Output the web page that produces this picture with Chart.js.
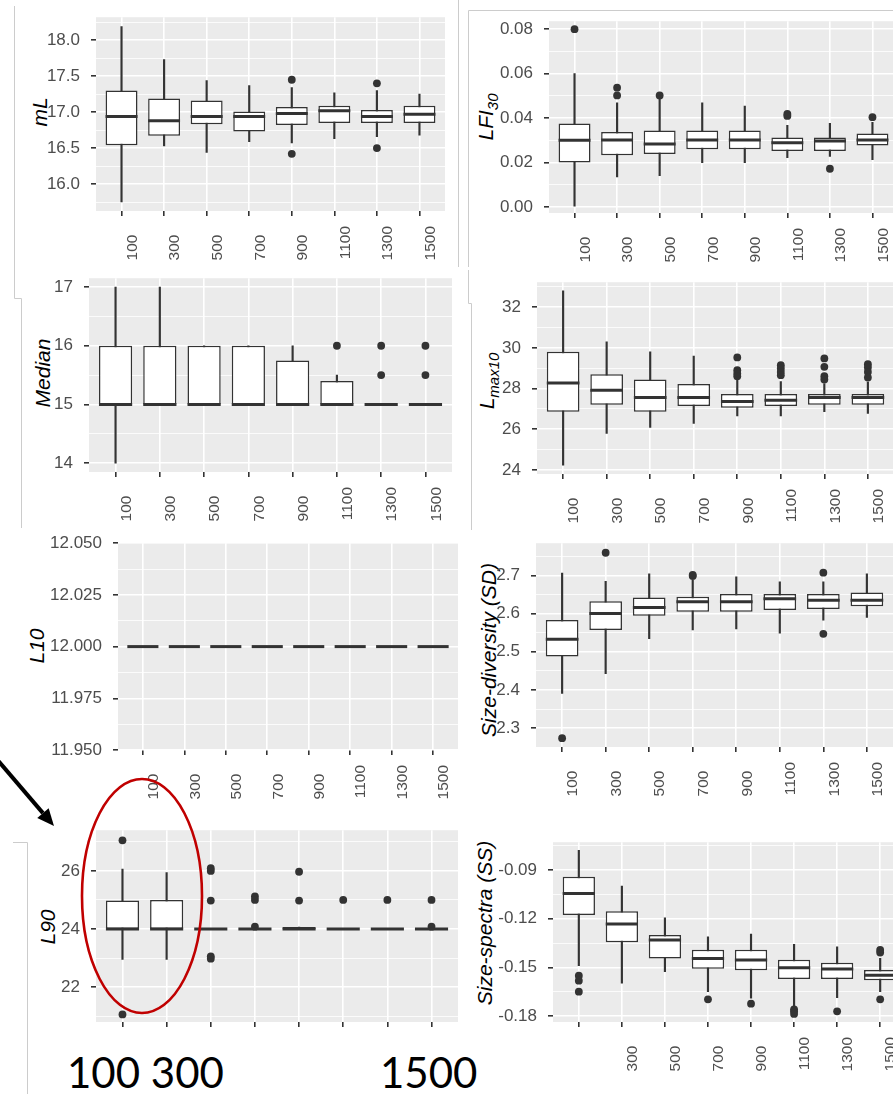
<!DOCTYPE html>
<html>
<head>
<meta charset="utf-8">
<script src="https://cdn.jsdelivr.net/npm/chart.js@4.4.0/dist/chart.umd.min.js"></script>
<style>
html, body { margin: 0; padding: 0; background: #fff; }
#page { position: relative; width: 893px; height: 1094px; overflow: hidden; background: #fff;
        font-family: "Liberation Sans", Arial, sans-serif; }
.ytitle { position: absolute; transform: translate(-50%, -50%) rotate(-90deg); white-space: nowrap;
          font-size: 21px; font-style: italic; color: #000; line-height: 1; }
.ytitle sub { font-size: 15px; vertical-align: -5px; }
.big { position: absolute; font-family: Lato, "Liberation Sans", sans-serif; font-size: 42px;
       line-height: 42px; color: #000; white-space: pre; }
#overlay { position: absolute; left: 0; top: 0; z-index: 5; pointer-events: none; }
</style>
</head>
<body>
<div id="page">
  <div class="ytitle" style="left:39px;top:112px">mL</div>
  <div class="ytitle" style="left:487px;top:117px">LFI<sub>30</sub></div>
  <div class="ytitle" style="left:42px;top:373px">Median</div>
  <div class="ytitle" style="left:488px;top:381px">L<sub>max10</sub></div>
  <div class="ytitle" style="left:36px;top:646px">L10</div>
  <div class="ytitle" style="left:488px;top:650px">Size-diversity (SD)</div>
  <div class="ytitle" style="left:47px;top:927px">L90</div>
  <div class="ytitle" style="left:484px;top:923px">Size-spectra (SS)</div>
  <div class="big" style="left:67px;top:1051px">100 300</div>
  <div class="big" style="left:380px;top:1051px">1500</div>
  <canvas id="overlay" width="893" height="1094"></canvas>
</div>
<script>
const sizes = ['100', '300', '500', '700', '900', '1100', '1300', '1500'];

// one row per sample size: [lower whisker, Q1, median, Q3, upper whisker]
const mlBox = [
    [15.75, 16.54, 16.94, 17.30, 18.19],
    [16.53, 16.67, 16.88, 17.19, 17.73],
    [16.44, 16.83, 16.94, 17.16, 17.44],
    [16.59, 16.73, 16.94, 17.01, 17.37],
    [16.57, 16.82, 16.98, 17.07, 17.34],
    [16.63, 16.85, 17.02, 17.09, 17.27],
    [16.66, 16.85, 16.94, 17.03, 17.30],
    [16.68, 16.85, 16.97, 17.09, 17.25]
];
const mlOut = [[4, 17.45], [4, 16.42], [6, 17.40], [6, 16.50]];
const mlTicks = [16.0, 16.5, 17.0, 17.5, 18.0];

const lfiBox = [
    [0.000, 0.020, 0.030, 0.0376, 0.060],
    [0.0135, 0.0233, 0.0302, 0.0338, 0.0469],
    [0.0141, 0.0239, 0.0283, 0.0344, 0.0484],
    [0.0200, 0.0260, 0.0302, 0.0344, 0.0469],
    [0.0200, 0.0260, 0.0302, 0.0344, 0.0454],
    [0.0222, 0.0252, 0.0289, 0.0313, 0.0368],
    [0.0228, 0.0252, 0.0297, 0.0313, 0.0376],
    [0.0213, 0.0277, 0.0302, 0.0331, 0.0381]
];
const lfiOut = [[0, 0.080], [1, 0.0537], [1, 0.0502], [2, 0.0502], [5, 0.0419], [5, 0.0410],
                [6, 0.0172], [7, 0.0404]];
const lfiTicks = [0.00, 0.02, 0.04, 0.06, 0.08];

const medianBox = [
    [14, 15, 15, 16, 17],
    [15, 15, 15, 16, 17],
    [15, 15, 15, 16, 16],
    [15, 15, 15, 16, 16],
    [15, 15, 15, 15.75, 16],
    [15, 15, 15, 15.4, 15.5],
    [15, 15, 15, 15, 15],
    [15, 15, 15, 15, 15]
];
const medianOut = [[5, 16], [6, 16], [6, 15.5], [7, 16], [7, 15.5]];
const medianTicks = [14, 15, 16, 17];

const lmaxBox = [
    [24.24, 26.86, 28.27, 29.81, 32.80],
    [25.80, 27.20, 27.92, 28.71, 30.30],
    [26.09, 26.86, 27.56, 28.45, 29.81],
    [26.29, 27.14, 27.56, 28.22, 29.60],
    [26.66, 27.06, 27.36, 27.73, 28.40],
    [26.66, 27.14, 27.43, 27.73, 28.35],
    [26.86, 27.20, 27.56, 27.73, 28.25],
    [26.78, 27.20, 27.56, 27.73, 28.33]
];
const lmaxOut = [[4, 29.53], [4, 28.90], [4, 28.74], [4, 28.61],
                 [5, 29.15], [5, 28.99], [5, 28.82], [5, 28.66],
                 [6, 29.48], [6, 29.07], [6, 28.61], [6, 28.45],
                 [7, 29.20], [7, 29.04], [7, 28.82], [7, 28.55]];
const lmaxTicks = [24, 26, 28, 30, 32];

const l10Box = [
    [12, 12, 12, 12, 12], [12, 12, 12, 12, 12], [12, 12, 12, 12, 12], [12, 12, 12, 12, 12],
    [12, 12, 12, 12, 12], [12, 12, 12, 12, 12], [12, 12, 12, 12, 12], [12, 12, 12, 12, 12]
];
const l10Out = [];
const l10Ticks = [11.950, 11.975, 12.000, 12.025, 12.050];

const sdBox = [
    [2.391, 2.488, 2.533, 2.583, 2.706],
    [2.443, 2.557, 2.600, 2.632, 2.684],
    [2.534, 2.594, 2.616, 2.642, 2.704],
    [2.557, 2.605, 2.631, 2.644, 2.687],
    [2.560, 2.605, 2.631, 2.651, 2.696],
    [2.549, 2.609, 2.639, 2.651, 2.683],
    [2.583, 2.612, 2.635, 2.651, 2.683],
    [2.590, 2.619, 2.635, 2.655, 2.704]
];
const sdOut = [[0, 2.274], [1, 2.759], [3, 2.698], [3, 2.701], [6, 2.707], [6, 2.547]];
const sdTicks = [2.3, 2.4, 2.5, 2.6, 2.7];

const l90Box = [
    [22.95, 24, 24, 24.98, 26.06],
    [22.95, 24, 24, 25.00, 25.94],
    [24, 24, 24, 24, 24],
    [24, 24, 24, 24, 24],
    [24, 24, 24, 24.07, 24.07],
    [24, 24, 24, 24, 24],
    [24, 24, 24, 24, 24],
    [24, 24, 24, 24, 24]
];
const l90Out = [[0, 27.05], [0, 21.06], [2, 26.09], [2, 26.00], [2, 24.98], [2, 23.06], [2, 22.98],
                [3, 25.12], [3, 25.00], [3, 24.08], [4, 25.97], [4, 24.98], [5, 25.00], [6, 25.00],
                [7, 25.00], [7, 24.08]];
const l90Ticks = [22, 24, 26];

const ssBox = [
    [-0.1490, -0.1177, -0.1044, -0.0941, -0.0778],
    [-0.1598, -0.1345, -0.1233, -0.1154, -0.0999],
    [-0.1526, -0.1446, -0.1331, -0.1300, -0.1194],
    [-0.1650, -0.1508, -0.1446, -0.1391, -0.1311],
    [-0.1690, -0.1518, -0.1454, -0.1391, -0.1294],
    [-0.1742, -0.1572, -0.1502, -0.1453, -0.1358],
    [-0.1687, -0.1572, -0.1510, -0.1471, -0.1374],
    [-0.1650, -0.1580, -0.1549, -0.1516, -0.1444]
];
const ssOut = [[0, -0.1551], [0, -0.1582], [0, -0.1650], [3, -0.1697], [4, -0.1724],
               [5, -0.1759], [5, -0.1771], [5, -0.1787], [6, -0.1771],
               [7, -0.1393], [7, -0.1409], [7, -0.1697]];
const ssTicks = [-0.18, -0.15, -0.12, -0.09];

// plot area in page pixels: [left, top, right, bottom]
const panels = [
    { box: mlBox, out: mlOut, ticks: mlTicks, min: 15.625, max: 18.32, digits: 1, area: [96, 17, 445, 211] },
    { box: lfiBox, out: lfiOut, ticks: lfiTicks, min: -0.0027, max: 0.0836, digits: 2, area: [549, 21, 898, 213] },
    { box: medianBox, out: medianOut, ticks: medianTicks, min: 13.85, max: 17.15, digits: 0, area: [89, 278, 452, 472] },
    { box: lmaxBox, out: lmaxOut, ticks: lmaxTicks, min: 23.8, max: 33.23, digits: 0, area: [537, 282, 894, 474] },
    { box: l10Box, out: l10Out, ticks: l10Ticks, min: 11.95, max: 12.05, digits: 3, area: [118, 543, 458, 750] },
    { box: sdBox, out: sdOut, ticks: sdTicks, min: 2.251, max: 2.784, digits: 1, area: [536, 543, 893, 747] },
    { box: l90Box, out: l90Out, ticks: l90Ticks, min: 20.8, max: 27.4, digits: 0, area: [96, 830, 458, 1022], hideX: [0, 1, 2, 3, 4, 5, 6, 7] },
    { box: ssBox, out: ssOut, ticks: ssTicks, min: -0.1837, max: -0.0728, digits: 2, area: [553, 842, 906, 1022], hideX: [0] }
];

Chart.defaults.font.family = '"Liberation Sans", Arial, sans-serif';

var panelBg = {
    id: 'panelBg',
    beforeDraw: function (chart) {
        var a = chart.chartArea, ctx = chart.ctx;
        ctx.save();
        ctx.fillStyle = '#ebebeb';
        ctx.fillRect(a.left, a.top, a.right - a.left, a.bottom - a.top);
        ctx.restore();
    }
};

var medianLines = {
    id: 'medianLines',
    afterDatasetsDraw: function (chart) {
        var ds = chart.data.datasets[1];
        var meta = chart.getDatasetMeta(1);
        var y = chart.scales.y;
        var ctx = chart.ctx;
        ctx.save();
        ctx.strokeStyle = '#333333';
        ctx.lineWidth = 3;
        meta.data.forEach(function (bar, i) {
            var p = bar.getProps(['x', 'width'], true);
            var py = y.getPixelForValue(ds.medians[i]);
            ctx.beginPath();
            ctx.moveTo(p.x - p.width / 2, py);
            ctx.lineTo(p.x + p.width / 2, py);
            ctx.stroke();
        });
        ctx.restore();
    }
};

function padLabel(s) {
    return s + '\u2007'.repeat(4 - s.length);
}

function drawPanel(p) {
    var L = p.area[0], T = p.area[1], R = p.area[2], B = p.area[3];
    var axisW = 90, axisH = 60, padRight = 4;
    var w = R - L + axisW + padRight, h = B - T + 14 + axisH;
    var canvas = document.createElement('canvas');
    canvas.width = w;
    canvas.height = h;
    canvas.style.cssText = 'position:absolute;left:' + (L - axisW) + 'px;top:' + (T - 14) + 'px;width:' + w + 'px;height:' + h + 'px';
    document.getElementById('page').insertBefore(canvas, document.getElementById('overlay'));

    var step = p.ticks[1] - p.ticks[0];
    var yTicks = p.ticks.slice();
    for (var v = p.ticks[0] - step / 2; v <= p.max + 1e-9; v += step) {
        if (v >= p.min - 1e-9) yTicks.push(v);
    }
    yTicks.sort(function (a, b) { return a - b; });
    var isMajor = function (v) {
        return p.ticks.some(function (t) { return Math.abs(t - v) < step * 1e-3; });
    };
    var hide = p.hideX || [];

    var chart = new Chart(canvas.getContext('2d'), {
        type: 'bar',
        data: {
            datasets: [{
                type: 'scatter',
                data: p.out.map(function (o) { return { x: o[0], y: o[1] }; }),
                pointRadius: 3.9,
                pointBackgroundColor: '#333333',
                pointBorderWidth: 0,
                order: 0
            }, {
                data: p.box.map(function (r, i) { return { x: i, y: [r[1], r[3]] }; }),
                medians: p.box.map(function (r) { return r[2]; }),
                backgroundColor: '#ffffff',
                borderColor: '#333333',
                borderWidth: 1.5,
                borderSkipped: false,
                grouped: false,
                categoryPercentage: 1,
                barPercentage: 0.75,
                order: 1
            }, {
                data: p.box.map(function (r, i) { return { x: i, y: [r[0], r[4]] }; }),
                backgroundColor: '#333333',
                borderWidth: 0,
                grouped: false,
                categoryPercentage: 1,
                barPercentage: 1,
                maxBarThickness: 1.5,
                order: 2
            }]
        },
        options: {
            responsive: false,
            maintainAspectRatio: false,
            animation: false,
            layout: { padding: { top: 0, right: padRight, left: 0, bottom: 0 } },
            plugins: { legend: { display: false }, tooltip: { enabled: false } },
            scales: {
                x: {
                    type: 'linear',
                    min: -0.6,
                    max: 7.6,
                    offset: false,
                    afterBuildTicks: function (s) { s.ticks = sizes.map(function (_, i) { return { value: i }; }); },
                    afterFit: function (s) { s.height = axisH; },
                    border: { display: false },
                    grid: { color: '#ffffff', lineWidth: 1.6, tickColor: '#333333', tickLength: 5, offset: false },
                    ticks: {
                        autoSkip: false,
                        minRotation: 90,
                        maxRotation: 90,
                        padding: 10,
                        labelOffset: 11,
                        color: '#4d4d4d',
                        font: { size: 15.5 },
                        callback: function (value, i) {
                            return hide.indexOf(i) >= 0 ? '' : padLabel(sizes[i]);
                        }
                    }
                },
                y: {
                    type: 'linear',
                    min: p.min,
                    max: p.max,
                    beginAtZero: false,
                    afterBuildTicks: function (s) { s.ticks = yTicks.map(function (v) { return { value: v }; }); },
                    afterFit: function (s) { s.width = axisW; },
                    border: { display: false },
                    grid: {
                        color: '#ffffff',
                        lineWidth: function (c) { return isMajor(c.tick.value) ? 1.6 : 0.8; },
                        tickColor: function (c) { return isMajor(c.tick.value) ? '#333333' : 'rgba(0,0,0,0)'; },
                        tickLength: 5
                    },
                    ticks: {
                        autoSkip: false,
                        padding: 11,
                        color: '#4d4d4d',
                        font: { size: 17 },
                        callback: function (value) {
                            return isMajor(value) ? Number(value).toFixed(p.digits) : '';
                        }
                    }
                }
            }
        },
        plugins: [panelBg, medianLines]
    });

    // line the plot area up with the reference panel
    var ca = chart.chartArea;
    var dw = (R - L) - (ca.right - ca.left);
    var dh = (B - T) - (ca.bottom - ca.top);
    if (Math.abs(dw) > 0.3 || Math.abs(dh) > 0.3) {
        chart.resize(Math.round(w + dw), Math.round(h + dh));
        ca = chart.chartArea;
    }
    canvas.style.left = (L - ca.left) + 'px';
    canvas.style.top = (T - ca.top) + 'px';
}

panels.forEach(drawPanel);

// frame lines, arrow and red ellipse laid over the figure
(function () {
    var ctx = document.getElementById('overlay').getContext('2d');
    ctx.strokeStyle = '#cccccc';
    ctx.lineWidth = 1;
    var frames = [
        [[14.5, 6], [14.5, 298.5], [21.5, 298.5], [21.5, 528]],
        [[13, 842.5], [27.5, 842.5], [27.5, 1094]],
        [[458.5, 0], [458.5, 267]],
        [[468.5, 267], [468.5, 10.5], [893, 10.5]],
        [[468.5, 270], [468.5, 303.5], [471.5, 303.5], [471.5, 530]]
    ];
    frames.forEach(function (f) {
        ctx.beginPath();
        ctx.moveTo(f[0][0], f[0][1]);
        for (var i = 1; i < f.length; i++) ctx.lineTo(f[i][0], f[i][1]);
        ctx.stroke();
    });

    // arrow
    var tip = [54, 826], dx = 53, dy = 62, len = Math.sqrt(dx * dx + dy * dy);
    var ux = dx / len, uy = dy / len, head = 17, half = 7.5;
    var bx = tip[0] - head * ux, by = tip[1] - head * uy;
    ctx.strokeStyle = '#000';
    ctx.lineWidth = 4;
    ctx.beginPath();
    ctx.moveTo(tip[0] - 90 * ux, tip[1] - 90 * uy);
    ctx.lineTo(bx, by);
    ctx.stroke();
    ctx.fillStyle = '#000';
    ctx.beginPath();
    ctx.moveTo(tip[0], tip[1]);
    ctx.lineTo(bx - half * uy, by + half * ux);
    ctx.lineTo(bx + half * uy, by - half * ux);
    ctx.closePath();
    ctx.fill();

    // red ellipse
    ctx.strokeStyle = '#c00000';
    ctx.lineWidth = 2.6;
    ctx.beginPath();
    ctx.ellipse(142, 896, 60, 117, 0, 0, Math.PI * 2);
    ctx.stroke();
})();
</script>
</body>
</html>
